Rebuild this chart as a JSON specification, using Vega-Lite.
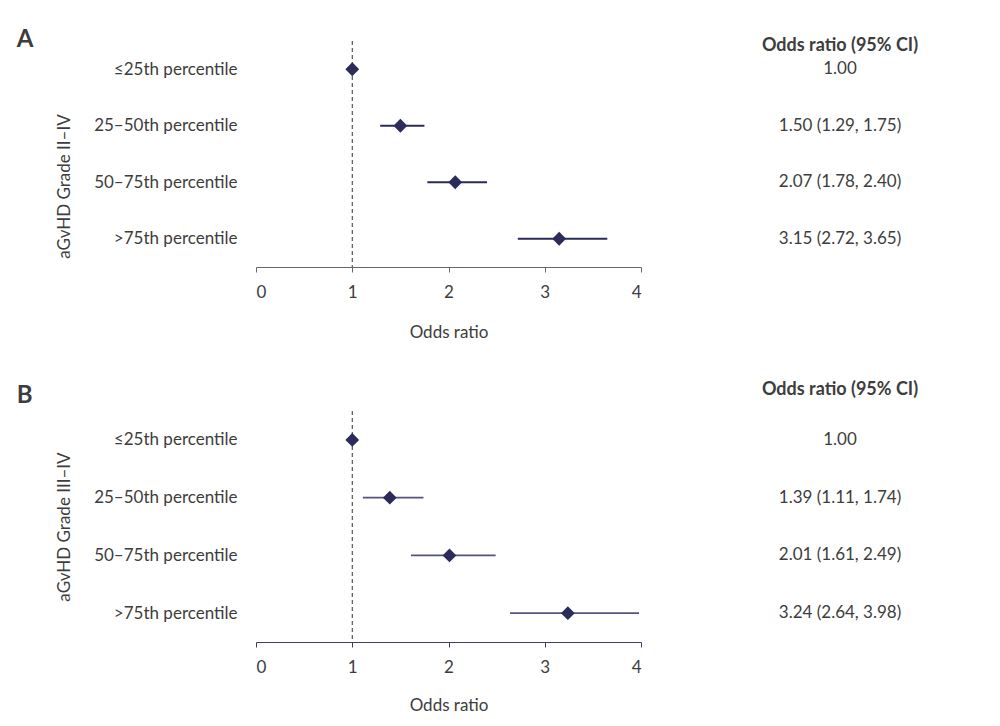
{
  "$schema": "https://vega.github.io/schema/vega-lite/v6.json",
  "background": "white",
  "padding": {"left": 16, "top": 27, "right": 5, "bottom": 5},
  "config": {
    "font": "Lato",
    "view": {"stroke": null},
    "text": {"color": "#3d3d3d"},
    "axis": {"labelColor": "#3d3d3d", "titleColor": "#3d3d3d", "labelFontSize": 17, "titleFontSize": 17, "titleFontWeight": "normal", "grid": false}
  },
  "datasets": {
    "rows": [
      {"panel": "A", "cat": "≤25th percentile", "or": 1.00, "lo": 1.00, "hi": 1.00, "label": "1.00"},
      {"panel": "A", "cat": "25–50th percentile", "or": 1.50, "lo": 1.29, "hi": 1.75, "label": "1.50 (1.29, 1.75)"},
      {"panel": "A", "cat": "50–75th percentile", "or": 2.07, "lo": 1.78, "hi": 2.40, "label": "2.07 (1.78, 2.40)"},
      {"panel": "A", "cat": ">75th percentile", "or": 3.15, "lo": 2.72, "hi": 3.65, "label": "3.15 (2.72, 3.65)"},
      {"panel": "B", "cat": "≤25th percentile", "or": 1.00, "lo": 1.00, "hi": 1.00, "label": "1.00"},
      {"panel": "B", "cat": "25–50th percentile", "or": 1.39, "lo": 1.11, "hi": 1.74, "label": "1.39 (1.11, 1.74)"},
      {"panel": "B", "cat": "50–75th percentile", "or": 2.01, "lo": 1.61, "hi": 2.49, "label": "2.01 (1.61, 2.49)"},
      {"panel": "B", "cat": ">75th percentile", "or": 3.24, "lo": 2.64, "hi": 3.98, "label": "3.24 (2.64, 3.98)"}
    ],
    "ref": [{"v": 1}]
  },
  "columns": 2,
  "bounds": "flush",
  "spacing": {"row": 144, "column": 119},
  "concat": [
    {
      "width": 385, "height": 226,
      "title": {"text": "A", "anchor": "start", "fontSize": 24, "fontWeight": "bold", "color": "#3d3d3d", "baseline": "alphabetic", "offset": -30, "dx": -39},
      "layer": [
        {
          "data": {"name": "ref"},
          "mark": {"type": "rule", "strokeDash": [4, 3], "color": "#333333", "strokeWidth": 1},
          "encoding": {"x": {"field": "v", "type": "quantitative"}}
        },
        {
          "data": {"name": "rows"},
          "transform": [{"filter": "datum.panel == 'A'"}],
          "mark": {"type": "rule", "color": "#2b2b5c", "strokeWidth": 2},
          "encoding": {
            "y": {"field": "cat", "type": "nominal", "sort": null, "scale": {"type": "point", "padding": 0.5},
                  "axis": {"title": "aGvHD Grade II–IV", "ticks": false, "domain": false, "labelPadding": 19, "titlePadding": 20, "titleY": 145}},
            "x": {"field": "lo", "type": "quantitative", "scale": {"domain": [0, 4], "nice": false},
                  "axis": {"title": "Odds ratio", "values": [0, 1, 2, 3, 4], "format": "d", "tickSize": 5, "domainColor": "#66667a", "tickColor": "#66667a", "labelPadding": 12, "titlePadding": 24}},
            "x2": {"field": "hi"}
          }
        },
        {
          "data": {"name": "rows"},
          "transform": [{"filter": "datum.panel == 'A'"}],
          "mark": {"type": "point", "shape": "diamond", "filled": true, "size": 190, "color": "#2b2b5c", "opacity": 1},
          "encoding": {
            "y": {"field": "cat", "type": "nominal", "sort": null},
            "x": {"field": "or", "type": "quantitative"}
          }
        }
      ]
    },
    {
      "width": 160, "height": 226,
      "data": {"name": "rows"},
      "transform": [{"filter": "datum.panel == 'A'"}],
      "title": {"text": "Odds ratio (95% CI)", "fontSize": 18, "fontWeight": "bold", "color": "#3d3d3d", "baseline": "alphabetic", "offset": -28},
      "mark": {"type": "text", "fontSize": 17},
      "encoding": {
        "y": {"field": "cat", "type": "nominal", "sort": null, "scale": {"type": "point", "padding": 0.5}, "axis": null},
        "text": {"field": "label"}
      }
    },
    {
      "width": 385, "height": 231,
      "title": {"text": "B", "anchor": "start", "fontSize": 24, "fontWeight": "bold", "color": "#3d3d3d", "baseline": "alphabetic", "offset": -16, "dx": -39},
      "layer": [
        {
          "data": {"name": "ref"},
          "mark": {"type": "rule", "strokeDash": [4, 3], "color": "#333333", "strokeWidth": 1},
          "encoding": {"x": {"field": "v", "type": "quantitative"}}
        },
        {
          "data": {"name": "rows"},
          "transform": [{"filter": "datum.panel == 'B'"}],
          "mark": {"type": "rule", "color": "#55557a", "strokeWidth": 1.6},
          "encoding": {
            "y": {"field": "cat", "type": "nominal", "sort": null, "scale": {"type": "point", "padding": 0.5},
                  "axis": {"title": "aGvHD Grade III–IV", "ticks": false, "domain": false, "labelPadding": 19, "titlePadding": 20}},
            "x": {"field": "lo", "type": "quantitative", "scale": {"domain": [0, 4], "nice": false},
                  "axis": {"title": "Odds ratio", "values": [0, 1, 2, 3, 4], "format": "d", "tickSize": 5, "domainColor": "#3f3f6a", "tickColor": "#3f3f6a", "labelPadding": 12, "titlePadding": 22}},
            "x2": {"field": "hi"}
          }
        },
        {
          "data": {"name": "rows"},
          "transform": [{"filter": "datum.panel == 'B'"}],
          "mark": {"type": "point", "shape": "diamond", "filled": true, "size": 190, "color": "#2b2b5c", "opacity": 1},
          "encoding": {
            "y": {"field": "cat", "type": "nominal", "sort": null},
            "x": {"field": "or", "type": "quantitative"}
          }
        }
      ]
    },
    {
      "width": 160, "height": 231,
      "data": {"name": "rows"},
      "transform": [{"filter": "datum.panel == 'B'"}],
      "title": {"text": "Odds ratio (95% CI)", "fontSize": 18, "fontWeight": "bold", "color": "#3d3d3d", "baseline": "alphabetic", "offset": -2},
      "mark": {"type": "text", "fontSize": 17},
      "encoding": {
        "y": {"field": "cat", "type": "nominal", "sort": null, "scale": {"type": "point", "padding": 0.5}, "axis": null},
        "text": {"field": "label"}
      }
    }
  ]
}
